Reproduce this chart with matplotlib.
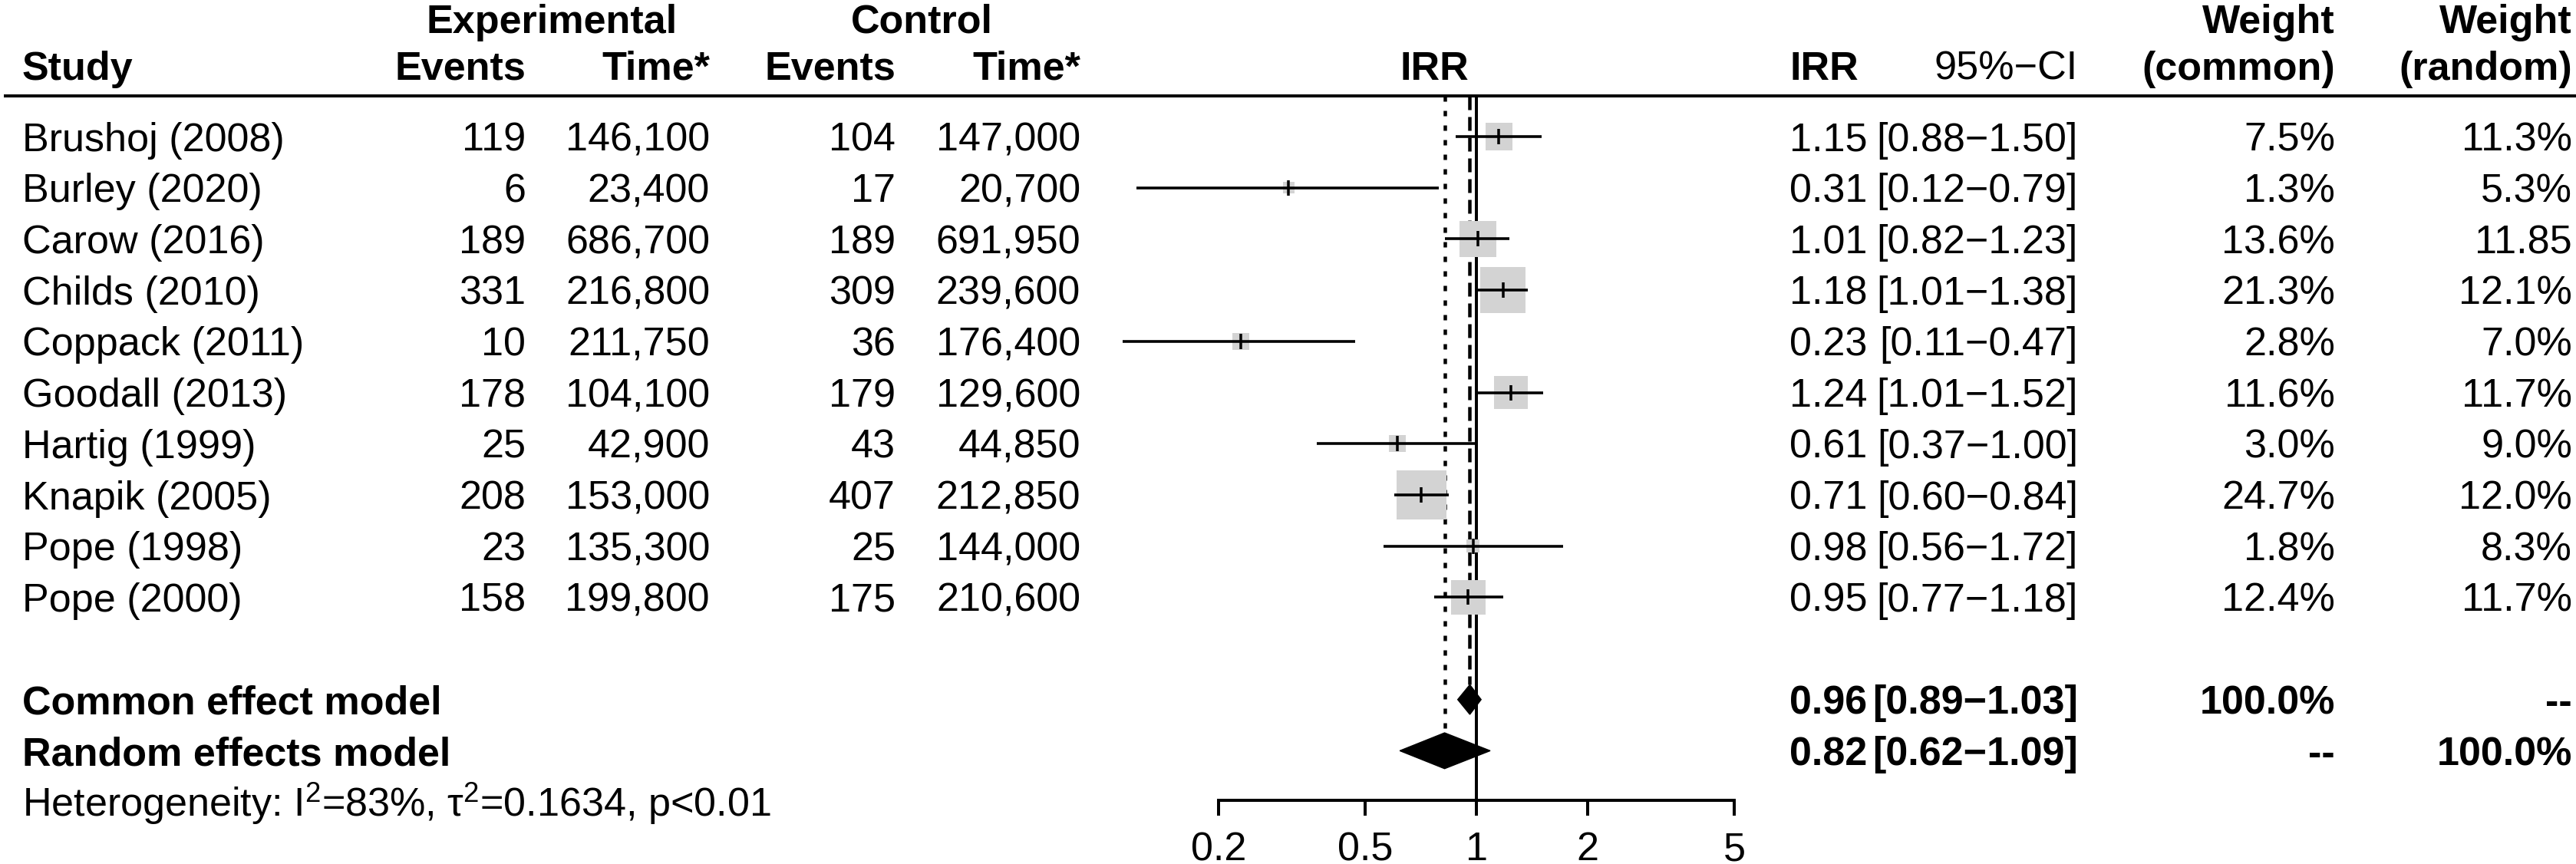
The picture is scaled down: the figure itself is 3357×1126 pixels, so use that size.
import numpy as np
import matplotlib
matplotlib.use("Agg")
import matplotlib.pyplot as plt
from matplotlib.patches import Polygon

plt.rcParams['font.family'] = ['Liberation Sans', 'DejaVu Sans']
plt.rcParams['mathtext.fontset'] = 'custom'
plt.rcParams['mathtext.rm'] = 'Liberation Sans'
plt.rcParams['mathtext.it'] = 'Liberation Sans:italic'
plt.rcParams['lines.scale_dashes'] = False

# study data
studies = ['Brushoj (2008)', 'Burley (2020)', 'Carow (2016)', 'Childs (2010)', 'Coppack (2011)',
           'Goodall (2013)', 'Hartig (1999)', 'Knapik (2005)', 'Pope (1998)', 'Pope (2000)']
exp_events = [119, 6, 189, 331, 10, 178, 25, 208, 23, 158]
exp_time = [146100, 23400, 686700, 216800, 211750, 104100, 42900, 153000, 135300, 199800]
ctrl_events = [104, 17, 189, 309, 36, 179, 43, 407, 25, 175]
ctrl_time = [147000, 20700, 691950, 239600, 176400, 129600, 44850, 212850, 144000, 210600]
irr = [1.15, 0.31, 1.01, 1.18, 0.23, 1.24, 0.61, 0.71, 0.98, 0.95]
ci_low = [0.88, 0.12, 0.82, 1.01, 0.11, 1.01, 0.37, 0.60, 0.56, 0.77]
ci_high = [1.50, 0.79, 1.23, 1.38, 0.47, 1.52, 1.00, 0.84, 1.72, 1.18]
weight_common = [7.5, 1.3, 13.6, 21.3, 2.8, 11.6, 3.0, 24.7, 1.8, 12.4]
weight_random = ['11.3%', '5.3%', '11.85', '12.1%', '7.0%', '11.7%', '9.0%', '12.0%', '8.3%', '11.7%']

# pooled estimates
common_est, common_lo, common_hi = 0.96, 0.89, 1.03
random_est, random_lo, random_hi = 0.82, 0.62, 1.09
het_text = r'Heterogeneity: I$^2$=83%, τ$^2$=0.1634, p<0.01'
xticks = [0.2, 0.5, 1, 2, 5]

# layout (pixels)
W, H, DPI = 3357, 1126, 100
FS = 37.5
em = FS * DPI / 72
row0, row_h = 178, 66.7
line_y = 125
axis_y = 1043


def px(v):
    return v * 72 / DPI


fig = plt.figure(figsize=(W / DPI, H / DPI), dpi=DPI)
ax = fig.add_axes([0, 0, 1, 1])
ax.set_xlim(0, W)
ax.set_ylim(H, 0)
ax.axis('off')


def txt(x, y, s, ha='left', bold=False):
    # y is the visual centre of the digits/capitals
    ax.text(x, y + 0.358 * em, s, ha=ha, va='baseline', fontsize=FS,
            fontweight='bold' if bold else 'normal')


def row_y(i):
    return row0 + i * row_h


# headers
txt(719, 24, 'Experimental', 'center', True)
txt(1201, 24, 'Control', 'center', True)
txt(29, 85, 'Study', bold=True)
txt(685, 85, 'Events', 'right', True)
txt(925, 85, 'Time*', 'right', True)
txt(1167, 85, 'Events', 'right', True)
txt(1408, 85, 'Time*', 'right', True)
txt(1869, 85, 'IRR', 'center', True)
txt(2332, 85, 'IRR', bold=True)
txt(2708, 85, '95%\u2212CI', 'right')
txt(3043, 24, 'Weight', 'right', True)
txt(3043, 85, '(common)', 'right', True)
txt(3352, 24, 'Weight', 'right', True)
txt(3352, 85, '(random)', 'right', True)
ax.plot([5, W], [line_y, line_y], color='black', lw=px(4), solid_capstyle='butt')

# study rows
for i, name in enumerate(studies):
    y = row_y(i)
    txt(29, y, name)
    txt(685, y, str(exp_events[i]), 'right')
    txt(925, y, f'{exp_time[i]:,}', 'right')
    txt(1167, y, str(ctrl_events[i]), 'right')
    txt(1408, y, f'{ctrl_time[i]:,}', 'right')
    txt(2332, y, f'{irr[i]:.2f}')
    txt(2708, y, f'[{ci_low[i]:.2f}\u2212{ci_high[i]:.2f}]', 'right')
    txt(3043, y, f'{weight_common[i]:.1f}%', 'right')
    txt(3352, y, weight_random[i], 'right')

# summary rows
i_common, i_random, i_het = 11, 12, 13
txt(29, row_y(i_common), 'Common effect model', bold=True)
txt(2332, row_y(i_common), f'{common_est:.2f}', bold=True)
txt(2708, row_y(i_common), f'[{common_lo:.2f}\u2212{common_hi:.2f}]', 'right', True)
txt(3043, row_y(i_common), '100.0%', 'right', True)
txt(3352, row_y(i_common), '--', 'right', True)
txt(29, row_y(i_random), 'Random effects model', bold=True)
txt(2332, row_y(i_random), f'{random_est:.2f}', bold=True)
txt(2708, row_y(i_random), f'[{random_lo:.2f}\u2212{random_hi:.2f}]', 'right', True)
txt(3043, row_y(i_random), '--', 'right', True)
txt(3352, row_y(i_random), '100.0%', 'right', True)
txt(29, row_y(i_het), het_text)

# forest panel: log x axis, rows on y
x1_px, dec_px = 1924, 480.7
xlo, xhi = 0.1, 10
left_px = x1_px + np.log10(xlo) * dec_px
right_px = x1_px + np.log10(xhi) * dec_px
axf = fig.add_axes([left_px / W, 1 - axis_y / H, (right_px - left_px) / W, (axis_y - line_y) / H])
axf.patch.set_visible(False)
axf.set_xscale('log')
axf.set_xlim(xlo, xhi)
ytop = (line_y - row0) / row_h
ybot = (axis_y - row0) / row_h
axf.set_ylim(ybot, ytop)
for s in ['top', 'right', 'left']:
    axf.spines[s].set_visible(False)
axf.spines['bottom'].set_bounds(xticks[0], xticks[-1])
axf.spines['bottom'].set_linewidth(px(4))
axf.set_yticks([])
axf.set_xticks(xticks)
axf.set_xticklabels([f'{t:g}' for t in xticks], fontsize=FS)
axf.xaxis.set_minor_locator(matplotlib.ticker.NullLocator())
axf.tick_params(axis='x', direction='out', length=px(20), width=px(4), pad=px(20))

rows = np.arange(len(studies))
side_px = 12.9 * np.sqrt(weight_common)
axf.scatter(irr, rows, marker='s', s=px(side_px) ** 2, color='#d3d3d3', linewidths=0, zorder=2)
axf.hlines(rows, ci_low, ci_high, color='black', lw=px(3.6), zorder=3, clip_on=False)
axf.plot(irr, rows, ls='none', marker='|', markersize=px(20), mew=px(3.5), color='black', zorder=4)

# reference and pooled lines
axf.axvline(1, color='black', lw=px(4), zorder=1)
hh_common, hh_random = 0.29, 0.35
axf.plot([common_est, common_est], [ytop, i_common - hh_common], color='black', lw=px(4.5),
         dashes=(px(18), px(9)), zorder=1)
axf.plot([random_est, random_est], [ytop, i_random - hh_random], color='black', lw=px(4.5),
         dashes=(px(7), px(12)), zorder=1)

for est, lo, hi, yy, hh in [(common_est, common_lo, common_hi, i_common, hh_common),
                            (random_est, random_lo, random_hi, i_random, hh_random)]:
    axf.add_patch(Polygon([(lo, yy), (est, yy - hh), (hi, yy), (est, yy + hh)],
                          closed=True, facecolor='black', edgecolor='black', lw=1, zorder=4))

fig.savefig('out.png', dpi=DPI)
